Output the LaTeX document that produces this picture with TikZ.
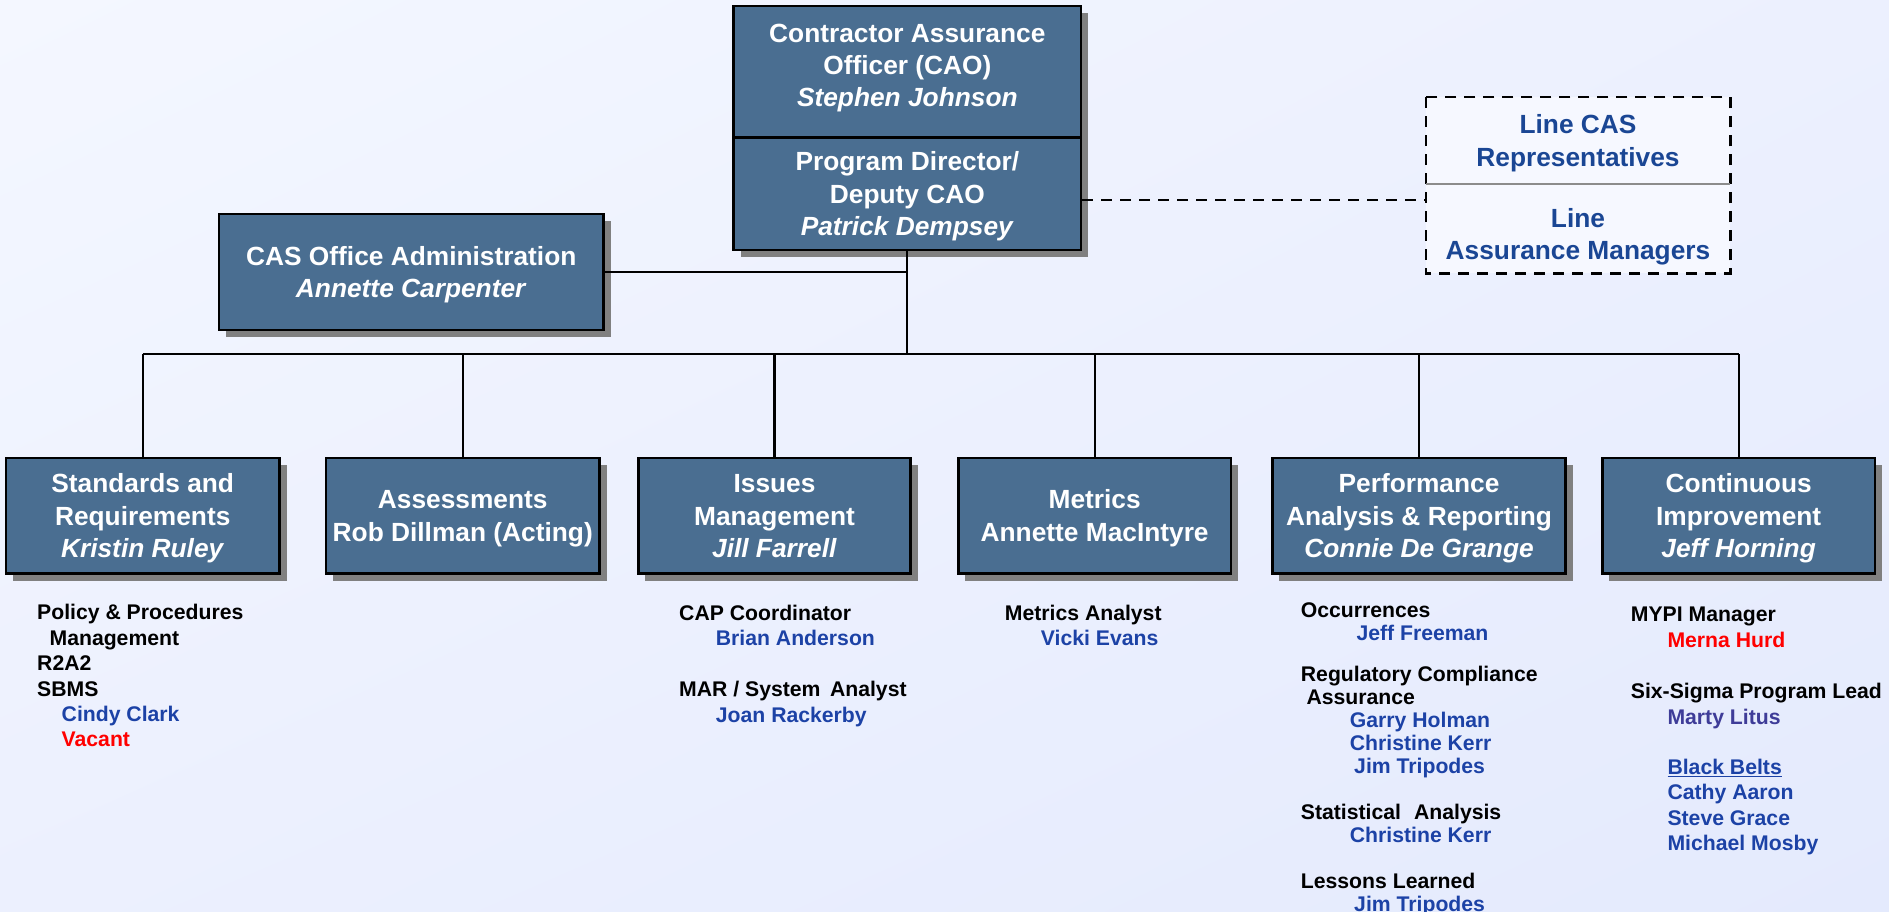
\documentclass[tikz,border=0pt]{standalone}
\usepackage{fontspec}
\setmainfont{Liberation Sans}
\usetikzlibrary{shadows,shadings}

\definecolor{bgtl}{RGB}{244,247,255}
\definecolor{bgmid}{RGB}{236,240,254}
\definecolor{bgbr}{RGB}{228,234,253}
\definecolor{boxblue}{RGB}{74,110,145}
\definecolor{shadowgray}{RGB}{128,128,128}
\definecolor{dividergray}{RGB}{140,140,140}
\definecolor{nameblue}{RGB}{28,66,166}
\definecolor{litusblue}{RGB}{62,60,152}
\definecolor{vacred}{RGB}{255,0,0}
\definecolor{linetext}{RGB}{26,70,148}
\definecolor{linefill}{RGB}{246,248,255}

% struts that centre the caps of a text block on its node centre
\newcommand{\boxlines}[1]{\rule{0pt}{25.3pt}#1\rule[-6.7pt]{0pt}{6.7pt}}
% thick underline
\newcommand{\thickul}[1]{\setbox0\hbox{#1}\rlap{\rule[-3pt]{\wd0}{1.6pt}}\box0}
\newcommand{\nm}[1]{\textcolor{nameblue}{#1}}

\begin{document}
\begin{tikzpicture}[x=1pt,y=-1pt,
  boxfont/.style={font=\bfseries\fontsize{26.3}{32.2}\selectfont},
  orgbox/.style={boxfont, draw=black, line width=2.8pt, fill=boxblue, text=white,
    inner sep=0pt, align=center,
    drop shadow={shadow xshift=7pt, shadow yshift=-7pt, fill=shadowgray, opacity=1}},
  boxlabel/.style={boxfont, text=white, inner sep=0pt, align=center},
  linebox/.style={boxfont, fill=linefill, inner sep=0pt, minimum width=304pt,
    text=linetext, align=center},
  linelabel/.style={boxfont, text=linetext, inner sep=0pt, align=center},
  wire/.style={line width=2.2pt, draw=black},
  dashwire/.style={line width=2.6pt, draw=black, dash pattern=on 11pt off 8pt},
  listtxt/.style={anchor=north west, inner sep=0pt, align=left,
    font=\bfseries\fontsize{21.2}{25.4}\selectfont},
]

% background
\shade[upper left=bgtl, upper right=bgmid, lower left=bgmid, lower right=bgbr]
  (0,0) rectangle (1889,912);
\useasboundingbox (0,0) rectangle (1889,912);

% top of the organisation
\node[orgbox, minimum width=347.3pt, minimum height=131.7pt] (cao) at (907.35,71.85) {};
\node[boxlabel] (caotxt) at (907.35,65.5)
  {\boxlines{Contractor Assurance\\Officer (CAO)\\\textit{Stephen Johnson}}};
\node[orgbox, minimum width=347.3pt, minimum height=112.3pt] (pd) at (907.35,193.85)
  {\boxlines{Program Director/\\Deputy CAO\\\textit{Patrick Dempsey}}};

\node[orgbox, minimum width=384.6pt, minimum height=116pt] (adm) at (411.3,272)
  {\boxlines{CAS Office Administration\\\textit{Annette Carpenter}}};

% line organisation (dotted-line relationship)
\node[linebox, minimum height=86.7pt] (lcas) at (1578,140.65)
  {\boxlines{Line CAS\\Representatives}};
\node[linebox, minimum height=89.3pt] (lam) at (1578,228.65) {};
\node[linelabel] (lamtxt) at (1578,234) {\boxlines{Line\\Assurance Managers}};
\draw[dashwire] (lcas.north west) rectangle (lam.south east);
\draw[line width=2.2pt, dividergray] (lcas.south west) -- (lcas.south east);

% functional groups
\node[orgbox, minimum width=273.5pt, minimum height=115.5pt] (std) at (142.75,515.75)
  {\boxlines{Standards and\\Requirements\\\textit{Kristin Ruley}}};
\node[orgbox, minimum width=273.5pt, minimum height=115.5pt] (asm) at (462.75,515.75)
  {\boxlines{Assessments\\Rob Dillman (Acting)}};
\node[orgbox, minimum width=272.4pt, minimum height=115.5pt] (iss) at (774.5,515.75)
  {\boxlines{Issues\\Management\\\textit{Jill Farrell}}};
\node[orgbox, minimum width=272.7pt, minimum height=115.5pt] (met) at (1094.65,515.75)
  {\boxlines{Metrics\\Annette MacIntyre}};
\node[orgbox, minimum width=293.4pt, minimum height=115.5pt] (par) at (1419,515.75)
  {\boxlines{Performance\\Analysis \& Reporting\\\textit{Connie De Grange}}};
\node[orgbox, minimum width=272.7pt, minimum height=115.5pt] (ci) at (1738.65,515.75)
  {\boxlines{Continuous\\Improvement\\\textit{Jeff Horning}}};

% connectors
\coordinate (hub) at (907.35,354);
\draw[wire] (pd.south) -- (hub);
\draw[wire] (adm.east) -- (adm.east -| pd.south);
\draw[wire] (std.north |- hub) -- (ci.north |- hub);
\foreach \b in {std,asm,iss,met,par,ci}
  \draw[wire] (\b.north) -- (\b.north |- hub);
\draw[dashwire] ([yshift=-6pt]pd.east) -- ([yshift=-6pt]pd.east -| lam.west);

% staff lists
\node[listtxt] (stdlist) at (37,602.6)
  {\rule{0pt}{17pt}Policy \& Procedures\\
   \hspace*{12.4pt}Management\\
   R2A2\\
   SBMS\\
   \hspace*{24.5pt}\nm{Cindy Clark}\\
   \hspace*{24.5pt}\textcolor{vacred}{Vacant}};

\node[listtxt] (isslist) at (679,603.3)
  {\rule{0pt}{17pt}CAP Coordinator\\
   \hspace*{36.7pt}\nm{Brian Anderson}\\[25.4pt]
   MAR / System\hspace{9.5pt}Analyst\\
   \hspace*{36.7pt}\nm{Joan Rackerby}};

\node[listtxt] (metlist) at (1004.7,603.3)
  {\rule{0pt}{17pt}Metrics Analyst\\
   \hspace*{36pt}\nm{Vicki Evans}};

\node[listtxt, font=\bfseries\fontsize{21.2}{23}\selectfont] (parlist) at (1300.7,599.9)
  {\rule{0pt}{17pt}Occurrences\\
   \hspace*{55.6pt}\nm{Jeff Freeman}\\[18pt]
   Regulatory Compliance\\
   \hspace*{5.6pt}Assurance\\
   \hspace*{49pt}\nm{Garry Holman}\\
   \hspace*{49pt}\nm{Christine Kerr}\\
   \hspace*{53.3pt}\nm{Jim Tripodes}\\[23pt]
   Statistical\hspace{13pt}Analysis\\
   \hspace*{49pt}\nm{Christine Kerr}\\[23pt]
   Lessons Learned\\
   \hspace*{53.3pt}\nm{Jim Tripodes}};

\node[listtxt] (cilist) at (1630.7,604.6)
  {\rule{0pt}{17pt}MYPI Manager\\
   \hspace*{36.6pt}\textcolor{vacred}{Merna Hurd}\\[26pt]
   Six-Sigma Program Lead\\
   \hspace*{36.6pt}\textcolor{litusblue}{Marty Litus}\\[25pt]
   \hspace*{36.6pt}\nm{\thickul{Black Belts}}\\
   \hspace*{36.6pt}\nm{Cathy Aaron}\\
   \hspace*{36.6pt}\nm{Steve Grace}\\
   \hspace*{36.6pt}\nm{Michael Mosby}};

\end{tikzpicture}
\end{document}
